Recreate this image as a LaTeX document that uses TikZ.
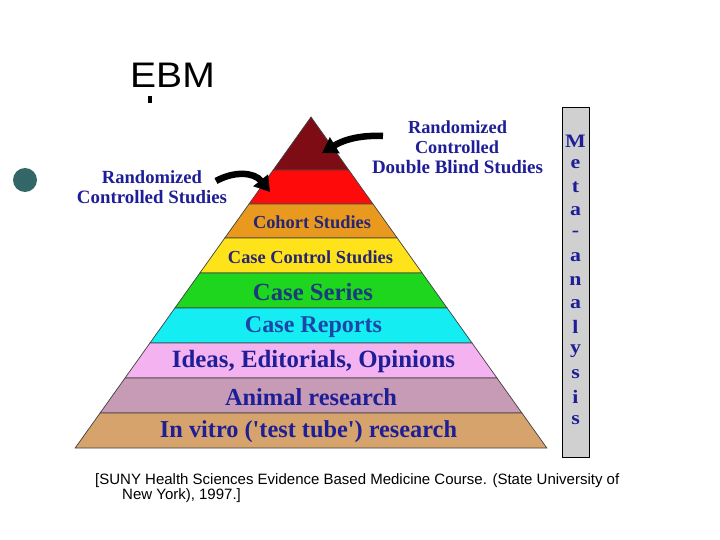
\documentclass[tikz,border=0pt]{standalone}
\usepackage{fontspec}
\usepackage{graphicx}
\setmainfont{Liberation Serif}
\newfontfamily\plainserif{Liberation Serif}[Ligatures=TeXOff]
\newfontfamily\sansf{Liberation Sans}
\usetikzlibrary{arrows.meta}
\definecolor{bandA}{HTML}{7E0C14}
\definecolor{bandB}{HTML}{FF0A0A}
\definecolor{bandC}{HTML}{E99A1E}
\definecolor{bandD}{HTML}{FFE31A}
\definecolor{bandE}{HTML}{1ED61E}
\definecolor{bandF}{HTML}{14EEF2}
\definecolor{bandG}{HTML}{F5B2F0}
\definecolor{bandH}{HTML}{C79AB6}
\definecolor{bandI}{HTML}{D6A36C}
\definecolor{navy}{HTML}{1E1E96}
\definecolor{navydark}{HTML}{262672}
\definecolor{seriesblue}{HTML}{1A3C7C}
\definecolor{reportblue}{HTML}{1C46A8}
\definecolor{metagray}{HTML}{D0D0D0}
\definecolor{bullet}{HTML}{336666}
\newcommand{\fitw}[2]{\resizebox{#1pt}{!}{#2}}
\begin{document}
\begin{tikzpicture}[x=1pt,y=-1pt,
  lbl/.style={inner sep=0pt,font=\bfseries\fontsize{10}{12}\selectfont},
  metal/.style={inner sep=0pt,text=navy,font=\bfseries\fontsize{19}{22}\selectfont},
  bigarrow/.style={line width=6.5pt,-{Triangle[length=15pt,width=18pt]}}]
\useasboundingbox (0,0) rectangle (720,540);
\fill[white] (0,0) rectangle (720,540);
% title
\node[anchor=base west,inner sep=0pt,font=\sansf\fontsize{35.5}{40}\selectfont] (title) at (130,88) {\scalebox{1.1}[1]{EBM}};
\fill[black] (148,96) rectangle (151.5,103);
% bullet
\fill[bullet] (25,180) circle (12);
% pyramid bands
\foreach \ya/\yb/\col in {117/170/bandA,170/204/bandB,204/238/bandC,238/273/bandD,273/308/bandE,308/343/bandF,343/378/bandG,378/413/bandH,413/448/bandI}{
  \pgfmathsetmacro\la{311-(\ya-117)*0.7125}
  \pgfmathsetmacro\ra{311+(\ya-117)*0.7125}
  \pgfmathsetmacro\lb{311-(\yb-117)*0.7125}
  \pgfmathsetmacro\rb{311+(\yb-117)*0.7125}
  \fill[\col,draw=black!75,line width=0.7pt] (\la,\ya) -- (\ra,\ya) -- (\rb,\yb) -- (\lb,\yb) -- cycle;
}
% band labels
\node[lbl,text=navydark] (cohort) at (312,222) {\fitw{118}{Cohort Studies}};
\node[lbl,text=navydark] (casectl) at (310.5,257) {\fitw{165}{Case Control Studies}};
\node[lbl,text=seriesblue] (series) at (313,292) {\fitw{120}{Case Series}};
\node[lbl,text=reportblue] (reports) at (313.5,327) {\fitw{137}{Case Reports}};
\node[lbl,text=navy] (ideas) at (313.5,362) {\fitw{283}{Ideas, Editorials, Opinions}};
\node[lbl,text=navy] (animal) at (311,397) {\fitw{172}{Animal research}};
\node[lbl,text=navy] (vitro) at (308.5,432) {\fitw{297}{\plainserif\bfseries In vitro ('test tube') research}};
% side labels
\node[lbl,text=navy] (rcs1) at (152,177) {\fitw{100}{Randomized}};
\node[lbl,text=navy] (rcs2) at (152,197) {\fitw{150}{Controlled Studies}};
\node[lbl,text=navy] (rdb1) at (457.5,127) {\fitw{99}{Randomized}};
\node[lbl,text=navy] (rdb2) at (457,147) {\fitw{84}{Controlled}};
\node[lbl,text=navy] (rdb3) at (457.5,167) {\fitw{171}{Double Blind Studies}};
% arrows
\coordinate (ra1) at (383,136);
\coordinate (ra2) at (322,153);
\draw[bigarrow] (ra1) .. controls (362,135) and (345,139) .. (ra2);
\coordinate (la1) at (216,181);
\coordinate (la2) at (270,192);
\draw[bigarrow] (la1) .. controls (234,171) and (254,172) .. (la2);
% meta-analysis column
\draw[fill=metagray,line width=0.9pt] (562,107) rectangle (589,457);
\foreach \ch [count=\i from 0] in {M,e,t,a,-,a,n,a,l,y,s,i,s}{
  \node[metal] (meta\i) at (575.5,141+\i*23.3) {\scalebox{1.15}[1]{\ch}};
}
% citation
\node[anchor=base west,inner sep=0pt,font=\sansf\fontsize{15}{17}\selectfont] (cite1) at (95,484) {[SUNY Health Sciences Evidence Based Medicine Course. (State University of};
\node[anchor=base west,inner sep=0pt,font=\sansf\fontsize{15}{17}\selectfont] (cite2) at (122,499) {New York), 1997.]};
\end{tikzpicture}
\end{document}
